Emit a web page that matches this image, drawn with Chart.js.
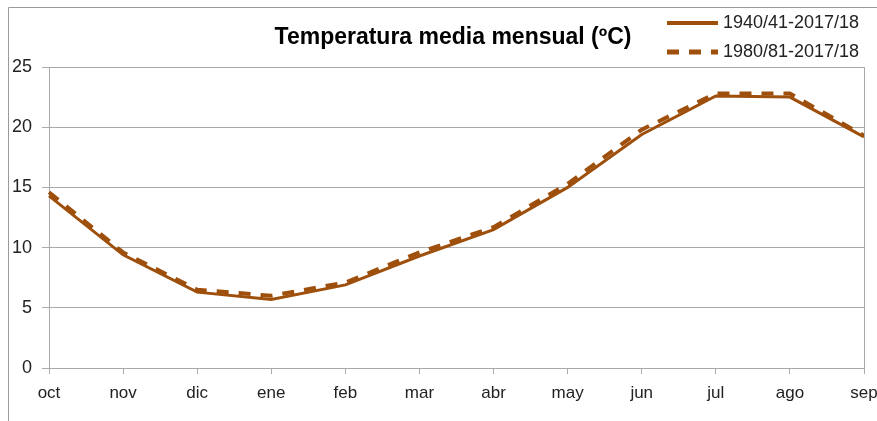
<!DOCTYPE html>
<html>
<head>
<meta charset="utf-8">
<script src="https://cdn.jsdelivr.net/npm/chart.js@4.4.0/dist/chart.umd.min.js"></script>
<style>
  html, body { margin: 0; padding: 0; background: #fff; }
  #wrap { width: 877px; height: 421px; position: relative; }
</style>
</head>
<body>
<div id="wrap"><canvas id="tempChart" width="877" height="421"></canvas></div>
<script>
// Monthly mean temperature (ºC), hydrological year oct -> sep
const months = ['oct', 'nov', 'dic', 'ene', 'feb', 'mar', 'abr', 'may', 'jun', 'jul', 'ago', 'sep'];
const serieLarga = [14.3, 9.4, 6.3, 5.7, 6.9, 9.3, 11.5, 15.0, 19.4, 22.6, 22.5, 19.2];
const serieCorta = [14.6, 9.6, 6.5, 6.0, 7.1, 9.6, 11.7, 15.3, 19.8, 22.8, 22.8, 19.3];
const serieNames = ['1940/41-2017/18', '1980/81-2017/18'];
const yTicks = [0, 5, 10, 15, 20, 25];

const brown = '#9E4F0C';
const gridGray = '#AAAAAA';
const labelFont = "'Liberation Sans', Arial, sans-serif";

// Title, legend, outer frame and right border of the plot
const framePlugin = {
    id: 'frame',
    afterDraw(chart) {
        const ctx = chart.ctx;
        const area = chart.chartArea;
        ctx.save();

        // outer frame (top and left edge)
        ctx.strokeStyle = '#9a9a9a';
        ctx.lineWidth = 1;
        ctx.beginPath();
        ctx.moveTo(8.5, 421);
        ctx.lineTo(8.5, 7.5);
        ctx.lineTo(877, 7.5);
        ctx.stroke();

        // right border of the plot area
        ctx.strokeStyle = gridGray;
        ctx.beginPath();
        ctx.moveTo(Math.round(area.right) + 0.5, area.top);
        ctx.lineTo(Math.round(area.right) + 0.5, area.bottom);
        ctx.stroke();

        // title
        ctx.fillStyle = '#000';
        ctx.font = "bold 23px " + labelFont;
        ctx.textAlign = 'center';
        ctx.textBaseline = 'middle';
        ctx.fillText('Temperatura media mensual (ºC)', 453, 38);

        // legend
        const ds = chart.data.datasets;
        const rows = [23, 52];
        ctx.font = "18px " + labelFont;
        ctx.textAlign = 'left';
        ds.forEach((d, i) => {
            ctx.strokeStyle = d.borderColor;
            ctx.lineWidth = d.borderWidth + 1;
            ctx.setLineDash(d.borderDash || []);
            ctx.beginPath();
            ctx.moveTo(667, rows[i]);
            ctx.lineTo(718, rows[i]);
            ctx.stroke();
            ctx.setLineDash([]);
            ctx.fillStyle = '#222';
            ctx.fillText(d.label, 723, rows[i]);
        });
        ctx.restore();
    }
};

const ctx = document.getElementById('tempChart').getContext('2d');
const tempChart = new Chart(ctx, {
    type: 'line',
    data: {
        labels: months,
        datasets: [{
            label: serieNames[0],
            data: serieLarga,
            borderColor: brown,
            borderWidth: 3,
            pointRadius: 0,
            tension: 0,
            fill: false
        }, {
            label: serieNames[1],
            data: serieCorta,
            borderColor: brown,
            borderWidth: 4,
            borderDash: [12, 10],
            pointRadius: 0,
            tension: 0,
            fill: false
        }]
    },
    options: {
        responsive: false,
        animation: false,
        layout: {
            padding: { top: 67, right: 13, left: 0, bottom: 0 }
        },
        plugins: {
            legend: { display: false },
            title: { display: false },
            tooltip: { enabled: false }
        },
        scales: {
            x: {
                offset: false,
                grid: {
                    drawOnChartArea: false,
                    color: gridGray,
                    tickLength: 6
                },
                border: { color: gridGray },
                ticks: {
                    color: '#222',
                    font: { family: labelFont, size: 17 },
                    padding: 9,
                    maxRotation: 0,
                    autoSkip: false
                },
                afterFit(scale) {
                    scale.height = 53;
                    // let the last label run off the right edge
                    scale.paddingRight = 0;
                    scale.paddingLeft = 0;
                }
            },
            y: {
                min: 0,
                max: 25,
                afterBuildTicks(scale) { scale.ticks = yTicks.map(v => ({ value: v })); },
                grid: {
                    color: gridGray,
                    tickLength: 7
                },
                border: { color: gridGray },
                ticks: {
                    color: '#222',
                    font: { family: labelFont, size: 18 },
                    padding: 10
                },
                afterFit(scale) { scale.width = 49; }
            }
        }
    },
    plugins: [framePlugin]
});
</script>
</body>
</html>
